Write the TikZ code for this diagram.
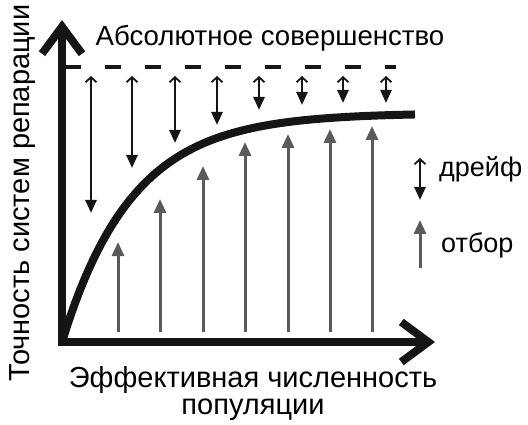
\documentclass[tikz,border=0pt]{standalone}
\usepackage{fontspec}
\setmainfont{Liberation Sans}
\usetikzlibrary{arrows.meta}

\definecolor{driftblack}{HTML}{151515}
\definecolor{selgray}{HTML}{5A5A5A}

\tikzset{
  axis/.style={line width=8pt, driftblack, -{Straight Barb[length=27pt,width=40pt]}},
  curve/.style={line width=8pt, driftblack},
  perfect/.style={line width=4pt, driftblack, dash pattern=on 16pt off 24pt},
  drift/.style={line width=2.5pt, driftblack,
    {Straight Barb[length=5pt,width=11pt,line width=1.8pt]}-{Triangle[length=13pt,width=11pt]}},
  selection/.style={line width=3pt, selgray, -{Triangle[length=14pt,width=12pt]}},
  label/.style={font=\fontsize{27.6}{27}\selectfont, inner sep=0pt},
  axislabel/.style={font=\fontsize{29}{27}\selectfont, inner sep=0pt},
  legend/.style={font=\fontsize{27}{30}\selectfont, inner sep=0pt}
}

\begin{document}
\begin{tikzpicture}[x=1pt, y=-1pt]
\useasboundingbox (0,0) rectangle (528,425);

% axes
\coordinate (origin) at (62,346);
\coordinate (ytip) at (62,20);
\coordinate (xstart) at (58,342);
\coordinate (xtip) at (435,342);
\draw[axis] (origin) -- (ytip);
\draw[axis] (xstart) -- (xtip);

% level of perfection
\coordinate (pleft) at (65,67);
\coordinate (pright) at (396,67);
\draw[perfect] (pleft) -- (pright);

% drift arrows
\foreach \x/\b in {91/213, 132/168, 175/143, 217/125, 259/110, 302/105, 343/103, 386/103}
  \draw[drift] (\x,76) -- (\x,\b);

% selection arrows
\foreach \x/\t in {118/242, 160/199, 203/166, 245/142, 288/134, 330/129, 372/126}
  \draw[selection] (\x,332) -- (\x,\t);

% repair accuracy
\draw[curve] plot[domain=62:415, samples=80] (\x, {113 + 229*exp(-(\x-62)/70)});

% texts
\node[label, anchor=base] (top) at (270,46) {Абсолютное совершенство};
\node[axislabel, anchor=base, rotate=90] (ylabel) at (29,193) {Точность систем репарации};
\node[axislabel, anchor=base, align=center] (xlabel) at (253,414) {Эффективная численность\\популяции};

% legend
\coordinate (dtop) at (420,158);
\coordinate (dbot) at (420,200);
\coordinate (sbot) at (420,268);
\coordinate (stop) at (420,220);
\draw[drift] (dtop) -- (dbot);
\draw[selection] (sbot) -- (stop);
\node[legend, anchor=base west] (ldrift) at (439,177) {дрейф};
\node[legend, anchor=base west] (lsel) at (441,252) {отбор};
\end{tikzpicture}
\end{document}
